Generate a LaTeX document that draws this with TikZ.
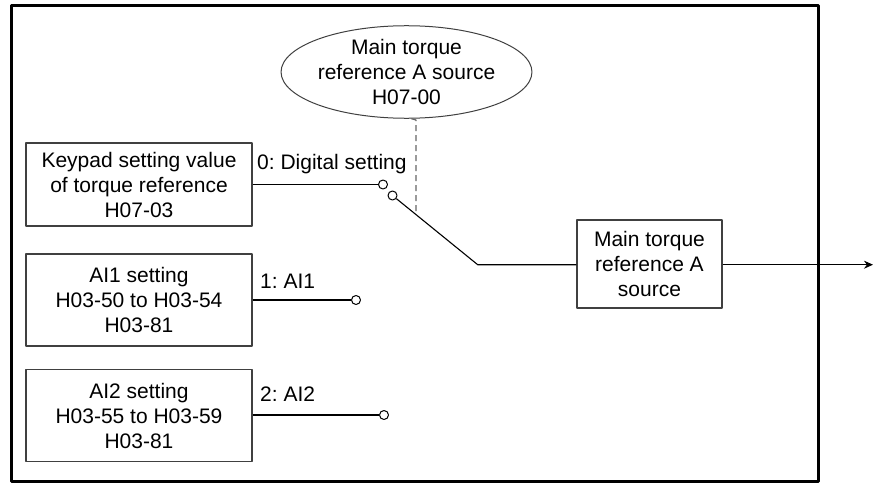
\documentclass[tikz,border=0pt]{standalone}
\usepackage{fontspec}
\setmainfont{Liberation Sans}
\usetikzlibrary{shapes.geometric,arrows.meta}
\begin{document}
\frenchspacing
\begin{tikzpicture}[x=1pt, y=-1pt, line join=round, >={Stealth[length=9pt,width=8pt]},
  font=\fontsize{21}{25}\selectfont,
  blk/.style={draw=black!75, line width=1.2pt, align=center, inner sep=0pt, minimum width=226pt},
  contact/.style={circle, draw, line width=1pt, fill=white, inner sep=0pt, minimum size=9pt},
  wire/.style={line width=1.1pt}]
\useasboundingbox (0,0) rectangle (873,487);
% outer frame
\draw[line width=3pt] (11,6) rectangle (818,481);
% sources
\node[blk, minimum height=83pt] (keypad) at (139,184.5) {Keypad setting value\\of torque reference\\H07-03};
\node[blk, minimum height=92pt] (ai1) at (139,300) {AI1 setting\\H03-50 to H03-54\\H03-81};
\node[blk, minimum height=92pt] (ai2) at (139,415.5) {AI2 setting\\H03-55 to H03-59\\H03-81};
\node[blk, minimum width=145pt, minimum height=88pt] (main) at (649.5,264) {Main torque\\reference A\\source};
\node[ellipse, draw=black!75, line width=1pt, align=center, inner sep=0pt, minimum width=245pt, minimum height=82pt] (sel) at (406.5,72) {Main torque\\reference A source\\H07-00};
% contacts
\node[contact] (c0) at (383,184.5) {};
\node[contact] (c1) at (356,300) {};
\node[contact] (c2) at (384,415) {};
\node[contact] (pivot) at (392.5,195.5) {};
\coordinate (bend) at (477.7,264.7);
\coordinate (out) at (873,264.7);
\coordinate (dtop) at (416,120);
\coordinate (dbot) at (416,212);
% labels
\node[anchor=west, inner sep=0pt] (l0) at (257,164) {0: Digital setting};
\node[anchor=west, inner sep=0pt] (l1) at (260,281) {1: AI1};
\node[anchor=west, inner sep=0pt] (l2) at (260,394) {2: AI2};
% wires
\draw[wire] (keypad.east |- c0) -- (c0);
\draw[wire] (ai1.east |- c1) -- (c1);
\draw[wire] (ai2.east |- c2) -- (c2);
\draw[wire] (pivot) -- (bend) -- (main.west |- bend);
\draw[wire,->] (main.east |- out) -- (out);
\draw[black!60, line width=1.2pt, dash pattern=on 6pt off 4pt] (sel.-84) -- (dtop) -- (dbot);
\end{tikzpicture}
\end{document}
